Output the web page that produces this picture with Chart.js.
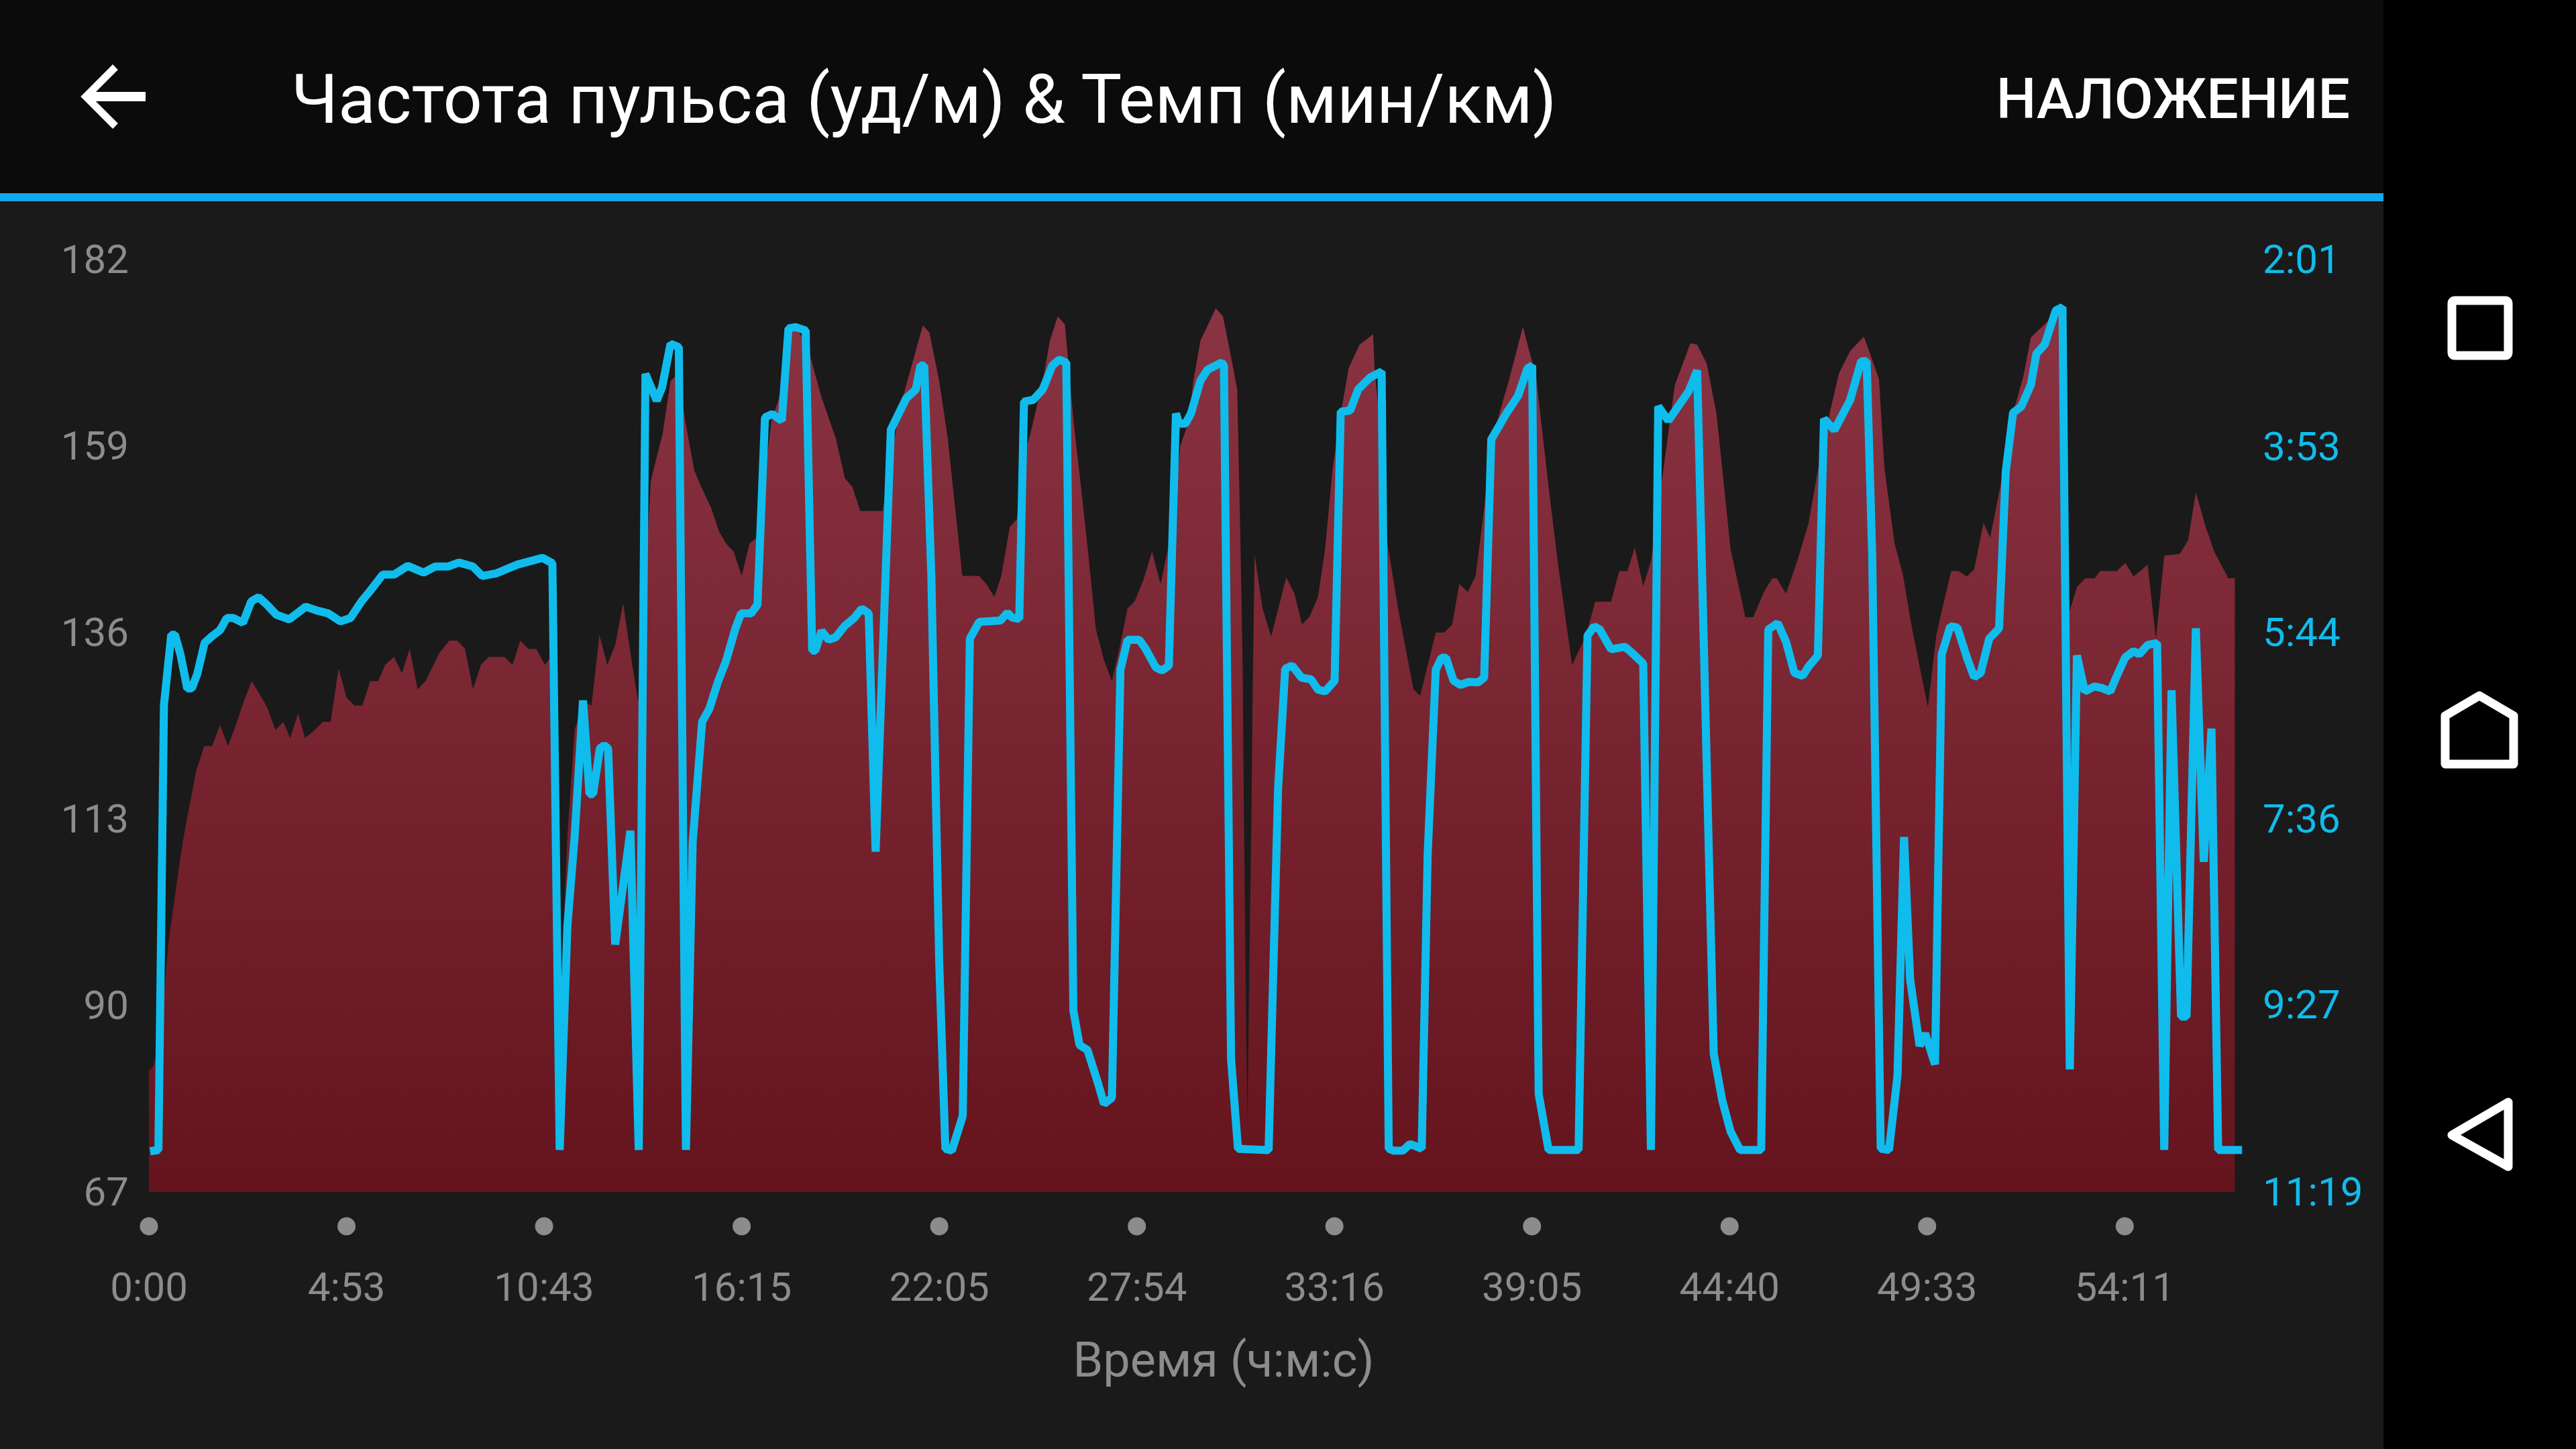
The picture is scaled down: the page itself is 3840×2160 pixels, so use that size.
<!DOCTYPE html>
<html lang="ru">
<head>
<meta charset="utf-8">
<title>Частота пульса & Темп</title>
<script src="https://cdn.jsdelivr.net/npm/chart.js@4"></script>
<style>
  html, body { margin: 0; width: 3840px; height: 2160px; background: #000; overflow: hidden; font-family: Roboto, sans-serif; }
  #header { position: absolute; left: 0; top: 0; width: 3553px; height: 288px; background: #0b0b0b; color: #fff; }
  #rule { position: absolute; left: 0; top: 288px; width: 3553px; height: 12px; background: #12a9ee; }
  #panel { position: absolute; left: 0; top: 300px; width: 3553px; height: 1860px; background: #1a1a1a; }
  #title { position: absolute; left: 434px; top: 88px; font-size: 102.4px; line-height: 120px; white-space: nowrap; }
  #action { position: absolute; right: 50px; top: 98px; font-size: 84px; line-height: 100px; font-weight: 500; white-space: nowrap; }
  #xtitle { position: absolute; left: 1824px; top: 1988px; transform: translateX(-50%); font-size: 72px; line-height: 80px; color: #8c8c8c; white-space: nowrap; }
  canvas { position: absolute; left: 0; top: 0; }
  svg { position: absolute; left: 0; top: 0; }
</style>
</head>
<body>
<div id="header">
  <div id="title">Частота пульса (уд/м) &amp; Темп (мин/км)</div>
  <div id="action">НАЛОЖЕНИЕ</div>
</div>
<div id="rule"></div>
<div id="panel"><canvas id="hrCanvas" width="3553" height="1860"></canvas></div>
<div id="xtitle">Время (ч:м:с)</div>
<svg width="3840" height="2160" fill="none" stroke="#fff">
  <path d="M172 100 L128 144 L172 188" stroke-width="11"/>
  <path d="M130 144 H217" stroke-width="14"/>
  <rect x="3655" y="448" width="84" height="82" rx="4" stroke-width="13"/>
  <path d="M3696 1037 L3747 1067 V1139 H3645 V1067 Z" stroke-width="13" stroke-linejoin="round"/>
  <path d="M3739 1643 L3655 1692 L3739 1739 Z" stroke-width="13" stroke-linejoin="round"/>
</svg>
<script>
// x positions are sample numbers, one tick every 100 samples (the app's time axis is not even)
const xTicks = [0, 100, 200, 300, 400, 500, 600, 700, 800, 900, 1000];
const xLabels = ["0:00", "4:53", "10:43", "16:15", "22:05", "27:54", "33:16", "39:05", "44:40", "49:33", "54:11"];
const hrTicks = [67, 90, 113, 136, 159, 182];
const paceTicks = [121, 233, 344, 456, 567, 679];
const paceLabels = ["2:01", "3:53", "5:44", "7:36", "9:27", "11:19"];

// heart rate, bpm
const hrSamples = [0, 2, 4, 7, 10, 14, 17, 20, 24, 28, 32, 36, 40, 44, 48, 52, 57, 60, 64, 68, 71.5, 75.5, 79, 84, 88, 92, 96, 100, 104, 108, 112, 116, 119.5, 124, 128, 132, 136, 140, 147, 152, 156, 160, 164, 168, 172, 180, 184, 188, 192, 196, 200.5, 203.5, 207.6, 211.8, 215.5, 220, 224, 228, 232, 236, 240, 244, 247.6, 250, 254, 256.3, 260, 264, 268, 271.5, 276, 279.5, 284.5, 288.5, 292, 296, 300, 304, 307.6, 312, 315, 319, 323, 327, 333, 340.4, 347.6, 352.3, 356, 360, 371.4, 375, 381, 391.7, 395, 400, 404.3, 408, 411.7, 420.2, 423.8, 427.9, 431.4, 435.7, 439.3, 443, 446, 452.4, 456, 460, 463.6, 468, 471.5, 475, 479.3, 483.4, 487.4, 491, 495.3, 498.8, 503.1, 507.7, 512, 515.5, 519, 522, 526.2, 528.6, 532.2, 540, 543.6, 547.7, 550.8, 552.4, 553.6, 554.1, 554.8, 555.5, 556, 557.2, 558, 558.5, 559.6, 563.6, 568, 575.6, 579.8, 583.6, 587.5, 591.7, 595.3, 599, 602.5, 607.2, 612.7, 619.6, 620.3, 624, 626.3, 632.2, 640, 643.4, 651.3, 655.6, 659.6, 663.2, 667.5, 671.5, 675.1, 678.7, 682.3, 688.2, 695.4, 699, 702, 708.4, 713.2, 716.9, 720.3, 727.3, 732, 740, 744.2, 748.4, 752, 756.3, 760.2, 765.3, 772.3, 780.2, 783.6, 788.4, 793.4, 800.5, 808, 812, 817.4, 821.6, 823.8, 828.6, 834.2, 839.9, 844.7, 851.1, 855.4, 861, 868, 875.6, 878.4, 883.5, 887.7, 892, 896.2, 900.4, 904.6, 907.4, 912.2, 915.9, 920.1, 923.8, 928.5, 931.9, 937, 939.8, 944, 948.8, 952.5, 963.7, 966.5, 969.4, 972.2, 975.8, 980, 984.8, 987.6, 996, 1000.3, 1004.5, 1011.6, 1015.8, 1020, 1027.9, 1032.1, 1036, 1041, 1045.3, 1052.4, 1055.8];
const hrValues = [82, 82.5, 84, 90, 98, 105, 110, 114, 119, 122, 122, 124.6, 122, 124.6, 127.5, 130, 128, 126.7, 124, 125, 123, 126, 123, 124, 125, 125, 131.6, 128, 127, 127, 130, 130, 132, 133, 131, 134, 129, 130, 133.5, 135, 135, 134, 129, 132, 133, 133, 132, 135, 134, 134, 132, 133, 86, 111, 124, 127.5, 127, 135.7, 132, 134.5, 139.6, 133, 127.5, 136.5, 154.7, 157, 160.5, 167, 168, 162, 156, 154, 151.4, 148.5, 147, 146, 143, 147, 147.7, 156, 162, 165, 173.7, 173.7, 171.6, 165, 160, 155, 154, 151, 151, 157, 164.5, 173.9, 173, 167, 160, 151.5, 143, 143, 142, 140.4, 143, 149, 150, 158, 160.4, 167, 172, 175, 174, 162, 154.5, 146.7, 136.4, 132.6, 130, 133.8, 139, 139.8, 142.3, 146, 142, 146, 152, 159, 162, 167, 172, 176, 175, 170, 166, 147.8, 131.5, 116, 99.7, 84, 75.7, 99.7, 113, 126, 145.6, 139, 135.5, 142.8, 140.8, 137, 138, 140.4, 146.3, 156, 162, 168.6, 171.5, 172.8, 168.6, 159, 147.8, 139, 129, 128.2, 136, 136, 137, 142, 141, 143, 150, 157.5, 162, 167, 173.7, 170.4, 167.7, 154, 144.4, 137.9, 132, 135.6, 139.8, 139.8, 143.6, 143.6, 146.5, 141.7, 144.8, 154, 166.5, 171.7, 171.5, 169.2, 163, 146.3, 137.9, 137.9, 141, 142.7, 142.7, 140.8, 144.8, 149.4, 156, 163.5, 168, 170.7, 172.5, 167.3, 156.2, 147, 143.2, 137, 131.8, 126.8, 135.6, 138.7, 143.6, 143.6, 142.9, 143.8, 149.5, 147.7, 154, 157.8, 163.5, 167.7, 172.4, 175, 176, 150, 138.7, 141.6, 142.7, 142.7, 143.6, 143.6, 144.6, 142.9, 144.4, 135.2, 145.5, 145.7, 147.4, 153.3, 149, 146, 142.7, 142.7];

// pace, seconds per km (axis runs downward)
const paceSamples = [0.6, 4.8, 7.6, 11.3, 13.2, 16, 19.4, 21.7, 24.5, 28.2, 32, 36, 39.4, 42.8, 47.6, 51.8, 55.5, 59.7, 64.5, 71, 79.4, 85, 90.7, 96.9, 102, 107.6, 111.8, 118.3, 124, 131, 139, 144.8, 151.3, 156.9, 164, 168.7, 176, 186.5, 199.2, 204.2, 207.9, 211.8, 215.5, 219.7, 223, 224.8, 228.2, 230.4, 232.4, 236, 243.7, 247.9, 251.3, 257, 259.7, 264, 268.2, 271.8, 275.2, 280, 283.7, 288, 292, 296.9, 299.7, 304.8, 308, 311.8, 315.5, 320.3, 323.7, 327.3, 332.4, 335.7, 337.3, 340.4, 344, 347.6, 352.3, 357.1, 360.7, 364.3, 367.8, 375.5, 383.3, 388.1, 390.5, 392.4, 396, 400, 403.1, 406.4, 411.9, 415.5, 420.2, 431, 434.5, 436.9, 440.5, 442.9, 447.6, 452.4, 457.2, 460.7, 464.3, 467.9, 471, 475, 480.3, 483.4, 487.4, 491.7, 495.3, 501.2, 504.1, 509.6, 512.7, 516.2, 519.8, 521.5, 524.6, 527.4, 532.2, 535.8, 542.9, 544.1, 547.7, 551.2, 566.7, 571.5, 575.1, 578.6, 583.4, 588.2, 591.7, 595.3, 600.1, 603.2, 608, 612, 618, 623.9, 627.5, 629.9, 634.6, 638.2, 640.6, 644.2, 647.2, 651.3, 654.2, 656.5, 660.3, 663.7, 668, 672.7, 675.8, 679.4, 687, 693, 697.7, 700.1, 703.4, 708.4, 723.6, 728.1, 731.5, 734.3, 740, 747, 750.7, 756.3, 760.2, 763.9, 769, 779.4, 783.6, 792, 796.3, 800.5, 805.3, 816, 819.6, 824.4, 828.6, 832.8, 837, 839.9, 844.7, 847.8, 853.1, 861, 866.6, 869.4, 872.2, 876.5, 880.7, 885, 888.3, 891.4, 896.2, 899, 904, 907.4, 911.7, 915.3, 920.1, 923.8, 927.1, 931.4, 936.4, 939.8, 943.5, 947.7, 952.5, 955.3, 959.5, 965.1, 968.5, 972.2, 975.8, 979.8, 984.8, 989, 992.7, 996, 1000.3, 1004.5, 1007.3, 1011.6, 1016.4, 1020, 1023.7, 1028.5, 1031.3, 1036, 1040, 1043.9, 1047.3, 1059.4];
const paceValues = [654.6, 653.8, 387.6, 345.5, 345.5, 357.5, 377.6, 377.6, 368.8, 350.3, 346.3, 342.7, 335.5, 335.5, 338.3, 325.5, 323, 327.5, 333.5, 336.3, 328.7, 331, 332.7, 337.5, 335.5, 325.5, 319.5, 309.5, 309.5, 304.3, 308.3, 304.7, 304.7, 302.3, 304.7, 310.3, 308.7, 303.5, 299.5, 302.7, 653.8, 519.7, 465.6, 384.8, 440.8, 440.8, 413.6, 411.6, 413.6, 530.9, 462.8, 653.8, 189.4, 205.4, 197.4, 171.4, 173.4, 653.8, 469.6, 397.6, 389.6, 373.6, 361.5, 341.5, 332.7, 332.7, 327.5, 215.4, 213.4, 217.4, 162.2, 161.4, 163.4, 355, 355, 343.2, 348.5, 347, 340, 335.3, 329.9, 332.7, 475.3, 222.8, 204, 198.8, 184.4, 184.4, 310.1, 541.8, 653.1, 654.2, 633.4, 347.8, 337.8, 337, 332.4, 335.2, 336, 206, 204.9, 198.7, 184.4, 180.8, 182.6, 570.5, 591, 593.9, 613.6, 626.2, 622.6, 366.5, 348.5, 348.5, 353.2, 365, 366.9, 364, 213.1, 219.2, 219.2, 213.1, 193.4, 186.9, 182.6, 184.4, 599.3, 653.1, 653.9, 437.6, 365.8, 364, 371.2, 372.2, 378.4, 379.4, 373, 212, 211.3, 198.7, 191.6, 188, 653.1, 654.2, 654.2, 650.3, 651.3, 653.1, 477.1, 366.5, 359.3, 359.3, 373, 375.5, 373.7, 374, 371.2, 228.6, 213.1, 202.4, 186.2, 184.4, 620.4, 653.8, 653.8, 346, 340.5, 342.3, 354.2, 352.7, 356.4, 362.7, 653.8, 208.8, 217.4, 199.6, 187.3, 596.3, 624.1, 642.7, 653.8, 653.8, 342.3, 338.6, 349.7, 368.3, 370.1, 364.6, 357.9, 216.3, 223, 205.1, 181.8, 181.8, 297.8, 653, 653.8, 609.3, 466.5, 551.8, 591.5, 584.1, 602.6, 357.2, 340.5, 341.2, 359, 370.9, 368.3, 347.9, 341.6, 247.8, 212.6, 208.8, 195.9, 177.3, 171.8, 151.4, 149.5, 605.6, 357.9, 379.4, 376.4, 377.6, 379.4, 370.1, 359, 355.3, 357.2, 351.6, 350.5, 653.8, 378.7, 574, 574, 341.6, 481.4, 401.6, 653.8, 653.8];

const tickFont = { family: "Roboto", size: 60 };

const tickDots = {
  id: "tickDots",
  afterDraw(chart) {
    const { ctx, scales } = chart;
    ctx.save();
    ctx.fillStyle = "#8c8c8c";
    xTicks.forEach(t => {
      ctx.beginPath();
      ctx.arc(scales.x.getPixelForValue(t), 1528, 13.5, 0, Math.PI * 2);
      ctx.fill();
    });
    ctx.restore();
  }
};

// Roboto digits sit a little high on a "middle" baseline, push the y labels down
function nudgeLabels(scale) {
  const base = Object.getPrototypeOf(scale).getLabelItems;
  scale.getLabelItems = function (area) {
    const fresh = !this._labelItems;
    const items = base.call(this, area);
    if (fresh) items.forEach(it => { it.options.translation[1] += 5; });
    return items;
  };
}

function hrFill(context) {
  const area = context.chart.chartArea;
  if (!area) return "#7a2230";
  const g = context.chart.ctx.createLinearGradient(0, area.top, 0, area.bottom);
  g.addColorStop(0, "#8c3545");
  g.addColorStop(1, "#65141d");
  return g;
}

new Chart(document.getElementById("hrCanvas"), {
  type: "line",
  data: {
    datasets: [
      {
        label: "Темп (мин/км)",
        data: paceSamples.map((s, i) => ({ x: s, y: paceValues[i] })),
        yAxisID: "pace",
        borderColor: "#10bcec",
        borderWidth: 12,
        borderJoinStyle: "bevel",
        pointRadius: 0,
        tension: 0,
        fill: false
      },
      {
        label: "Частота пульса (уд/м)",
        data: hrSamples.map((s, i) => ({ x: s, y: hrValues[i] })),
        yAxisID: "hr",
        borderWidth: 0,
        backgroundColor: hrFill,
        pointRadius: 0,
        tension: 0,
        fill: "start"
      }
    ]
  },
  options: {
    responsive: false,
    animation: false,
    layout: { padding: { top: 87 } },
    plugins: { legend: { display: false }, tooltip: { enabled: false } },
    scales: {
      x: {
        type: "linear",
        min: 0,
        max: 1060,
        grid: { display: false, drawTicks: false },
        border: { display: false },
        afterBuildTicks: s => { s.ticks = xTicks.map(v => ({ value: v })); },
        afterFit: s => { s.height = 383; },
        ticks: {
          autoSkip: false,
          maxRotation: 0,
          padding: 111,
          color: "#8c8c8c",
          font: tickFont,
          callback: v => xLabels[xTicks.indexOf(v)]
        }
      },
      hr: {
        position: "left",
        min: 67,
        max: 182,
        grid: { display: false, drawTicks: false },
        border: { display: false },
        afterBuildTicks: s => { s.ticks = hrTicks.map(v => ({ value: v })); },
        afterFit: s => { s.width = 222; nudgeLabels(s); },
        ticks: { padding: 30, color: "#8c8c8c", font: tickFont }
      },
      pace: {
        position: "right",
        reverse: true,
        min: 121,
        max: 679,
        grid: { display: false, drawTicks: false },
        border: { display: false },
        afterBuildTicks: s => { s.ticks = paceTicks.map(v => ({ value: v })); },
        afterFit: s => { s.width = 209; nudgeLabels(s); },
        ticks: {
          padding: 29,
          color: "#10bcec",
          font: tickFont,
          callback: v => paceLabels[paceTicks.indexOf(v)]
        }
      }
    }
  },
  plugins: [tickDots]
});
</script>
</body>
</html>
